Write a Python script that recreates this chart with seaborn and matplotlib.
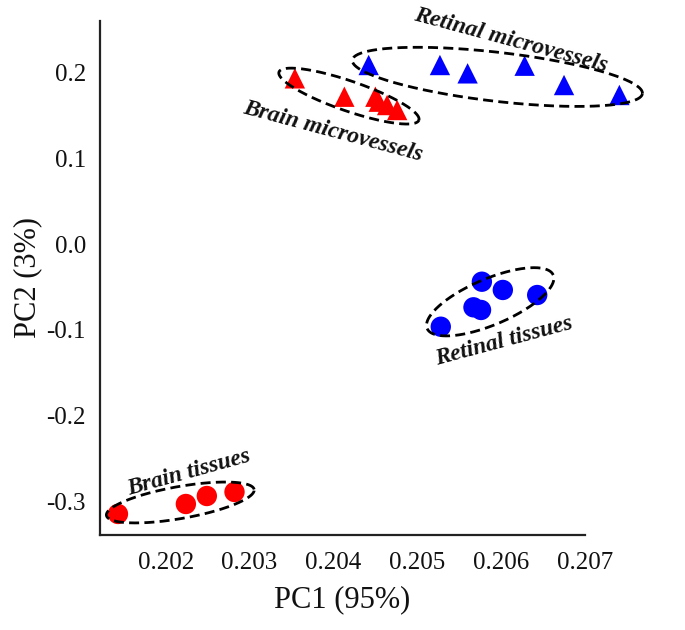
import numpy as np
import pandas as pd
import matplotlib
matplotlib.use("Agg")
import matplotlib.pyplot as plt
import seaborn as sns

# ---------------- data ----------------
brain_tissue_x = [0.20143, 0.20224, 0.20249, 0.20282]
brain_tissue_y = [-0.3142, -0.3026, -0.2933, -0.2886]

retinal_tissue_x = [0.20528, 0.20577, 0.20602, 0.20567, 0.20576, 0.20643]
retinal_tissue_y = [-0.0962, -0.0438, -0.0534, -0.0736, -0.0767, -0.0593]

brain_micro_x = [0.20354, 0.20413, 0.20450, 0.20454, 0.20464, 0.20476]
brain_micro_y = [0.1930, 0.1716, 0.1716, 0.1658, 0.1619, 0.1561]

retinal_micro_x = [0.20442, 0.20527, 0.20560, 0.20628, 0.20675, 0.20741]
retinal_micro_y = [0.2085, 0.2085, 0.1988, 0.2077, 0.1852, 0.1736]

x_ticks = [0.202, 0.203, 0.204, 0.205, 0.206, 0.207]
x_tick_labels = ["0.202", "0.203", "0.204", "0.205", "0.206", "0.207"]
y_ticks = [-0.3, -0.2, -0.1, 0.0, 0.1, 0.2]
y_tick_labels = ["-0.3", "-0.2", "-0.1", "0.0", "0.1", "0.2"]

group_labels = ["Brain tissues", "Retinal tissues", "Brain microvessels", "Retinal microvessels"]

# ---------------- style ----------------
sns.set_style("white")
plt.rcParams["font.family"] = ["Liberation Serif", "DejaVu Serif"]
plt.rcParams["axes.unicode_minus"] = False

RED = "#ff0000"
BLUE = "#0000ff"

tissues = pd.DataFrame({
    "PC1": brain_tissue_x + retinal_tissue_x,
    "PC2": brain_tissue_y + retinal_tissue_y,
    "group": [group_labels[0]] * len(brain_tissue_x) + [group_labels[1]] * len(retinal_tissue_x),
})
micro = pd.DataFrame({
    "PC1": brain_micro_x + retinal_micro_x,
    "PC2": brain_micro_y + retinal_micro_y,
    "group": [group_labels[2]] * len(brain_micro_x) + [group_labels[3]] * len(retinal_micro_x),
})
palette = {group_labels[0]: RED, group_labels[1]: BLUE,
           group_labels[2]: RED, group_labels[3]: BLUE}

fig = plt.figure(figsize=(6.85, 6.3), dpi=100)
ax = fig.add_axes([100 / 685, 1 - 535 / 630, 485 / 685, (535 - 20.7) / 630])

ax.set_xlim(0.201216, 0.207)
ax.set_ylim(-0.3387, 0.2601)

sns.scatterplot(data=tissues, x="PC1", y="PC2", hue="group", palette=palette,
                marker="o", s=215, linewidth=0, legend=False, ax=ax,
                clip_on=False, zorder=3)
sns.scatterplot(data=micro, x="PC1", y="PC2", hue="group", palette=palette,
                marker="^", s=215, linewidth=0, legend=False, ax=ax,
                clip_on=False, zorder=3)

ax.set_xticks(x_ticks)
ax.set_xticklabels(x_tick_labels)
ax.set_yticks(y_ticks)
ax.set_yticklabels(y_tick_labels)

for side in ["top", "right"]:
    ax.spines[side].set_visible(False)
for side in ["left", "bottom"]:
    ax.spines[side].set_linewidth(1.6)
    ax.spines[side].set_color("#222222")

ax.tick_params(axis="both", direction="out", length=7.2, width=1.3,
               color="#222222", labelsize=18, labelcolor="#111111")
ax.tick_params(axis="x", pad=5)
ax.tick_params(axis="y", pad=3)

ax.set_xlabel("PC1 (95%)", fontsize=22, labelpad=8, color="#111111")
ax.set_ylabel("PC2 (3%)", fontsize=22, labelpad=3, color="#111111")


def dashed_ellipse(xs, ys, width_px, height_px, angle_deg, dx_px=0.0, dy_px=0.0):
    pts = ax.transData.transform(np.column_stack([xs, ys]))
    cx, cy = pts.mean(axis=0)
    cx += dx_px
    cy -= dy_px
    t = np.linspace(0, 2 * np.pi, 300)
    a = np.deg2rad(angle_deg)
    ex = width_px / 2 * np.cos(t)
    ey = height_px / 2 * np.sin(t)
    X = cx + ex * np.cos(a) - ey * np.sin(a)
    Y = cy + ex * np.sin(a) + ey * np.cos(a)
    d = ax.transData.inverted().transform(np.column_stack([X, Y]))
    ax.plot(d[:, 0], d[:, 1], color="black", lw=2.0, ls=(0, (3.6, 1.9)),
            clip_on=False, zorder=4)


dashed_ellipse(brain_tissue_x, brain_tissue_y, 150, 32, 10, -6, 1)
dashed_ellipse(retinal_tissue_x, retinal_tissue_y, 137, 46, 23, 4, 0)
dashed_ellipse(brain_micro_x, brain_micro_y, 148, 30, -19, -14, -2)
dashed_ellipse(retinal_micro_x, retinal_micro_y, 292, 49, -6.6, 0, 2)

label_style = dict(fontsize=17, fontweight="bold", fontstyle="italic",
                   ha="center", va="center", rotation_mode="anchor",
                   color="#111111", zorder=5)
ax.text(0.20611, 0.2376, group_labels[3], rotation=-15, **label_style)
ax.text(0.20400, 0.1305, group_labels[2], rotation=-15, **label_style)
ax.text(0.20604, -0.1136, group_labels[1], rotation=15, **label_style)
ax.text(0.20228, -0.2657, group_labels[0], rotation=15.5, **label_style)

fig.savefig("out.png", dpi=100)
